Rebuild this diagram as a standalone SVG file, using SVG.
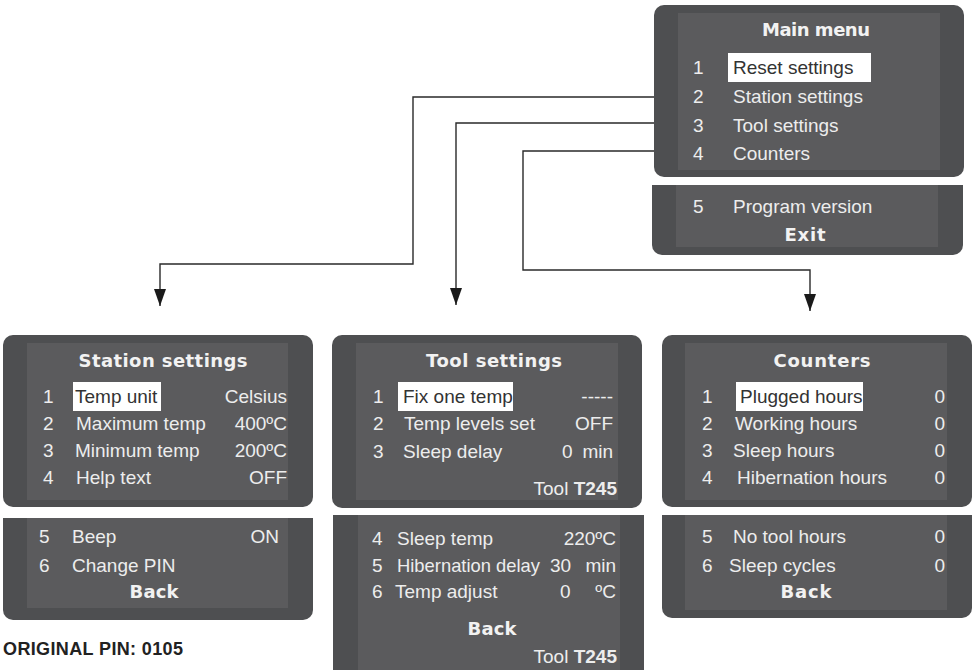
<svg xmlns="http://www.w3.org/2000/svg" width="974" height="670" viewBox="0 0 974 670">
<defs>
<style>
.outer{fill:#4e4f51}
.inner{fill:#5b5b5d}
.hl{fill:#ffffff}
.t{font-family:"Liberation Sans",Arial,sans-serif;font-size:19px;fill:#ededed}
.d{font-family:"Liberation Sans",Arial,sans-serif;font-size:19px;fill:#333333}
.h{font-family:"DejaVu Sans",sans-serif;font-weight:bold;font-size:18px;fill:#f2f2f2;text-anchor:middle}
.e{text-anchor:end}
.b{font-weight:bold}
.conn{fill:none;stroke:#2a2a2a;stroke-width:1.4}
.pin{font-family:"Liberation Sans",Arial,sans-serif;font-weight:bold;font-size:18px;fill:#222222}
</style>
<marker id="arrow" markerUnits="userSpaceOnUse" viewBox="0 0 17 12" refX="17" refY="6" markerWidth="17" markerHeight="12" orient="auto">
<path d="M0,0 L17,6 L0,12 z" fill="#1a1a1a"/>
</marker>
</defs>

<g id="connectors">
<path class="conn" d="M654,97 H413 V264 H160 V306" marker-end="url(#arrow)"/>
<path class="conn" d="M654,123 H456 V305" marker-end="url(#arrow)"/>
<path class="conn" d="M654,151 H523 V270 H810 V311" marker-end="url(#arrow)"/>
</g>

<g id="main-menu">
<rect class="outer" x="654" y="5" width="310" height="172" rx="10"/>
<rect class="inner" x="678" y="13" width="262" height="157"/>
<text class="h" x="816" y="36" textLength="108">Main menu</text>
<rect class="hl" x="728" y="53" width="143" height="29"/>
<text class="t" x="693" y="74">1</text><text class="d" x="733" y="74">Reset settings</text>
<text class="t" x="693" y="103">2</text><text class="t" x="733" y="103">Station settings</text>
<text class="t" x="693" y="132">3</text><text class="t" x="733" y="132">Tool settings</text>
<text class="t" x="693" y="160">4</text><text class="t" x="733" y="160">Counters</text>
<path class="outer" d="M652,185 H963 V245 A10,10 0 0 1 953,255 H662 A10,10 0 0 1 652,245 Z"/>
<rect class="inner" x="676" y="185" width="262" height="62"/>
<text class="t" x="693" y="213">5</text><text class="t" x="733" y="213">Program version</text>
<text class="h" x="805" y="241" textLength="41">Exit</text>
</g>

<g id="station-settings">
<rect class="outer" x="3" y="335" width="310" height="172" rx="10"/>
<rect class="inner" x="27" y="343" width="261" height="157"/>
<text class="h" x="163" y="367" textLength="169">Station settings</text>
<rect class="hl" x="73" y="382" width="88" height="29"/>
<text class="t" x="43" y="403">1</text><text class="d" x="75" y="403">Temp unit</text><text class="t e" x="287" y="403">Celsius</text>
<text class="t" x="43" y="430">2</text><text class="t" x="76" y="430">Maximum temp</text><text class="t e" x="287" y="430">400ºC</text>
<text class="t" x="43" y="457">3</text><text class="t" x="75" y="457">Minimum temp</text><text class="t e" x="287" y="457">200ºC</text>
<text class="t" x="43" y="484">4</text><text class="t" x="76" y="484">Help text</text><text class="t e" x="287" y="484">OFF</text>
<path class="outer" d="M3,518 H313 V610 A10,10 0 0 1 303,620 H13 A10,10 0 0 1 3,610 Z"/>
<rect class="inner" x="27" y="518" width="261" height="90"/>
<text class="t" x="39" y="543">5</text><text class="t" x="72" y="543">Beep</text><text class="t e" x="279" y="543">ON</text>
<text class="t" x="39" y="572">6</text><text class="t" x="72" y="572">Change PIN</text>
<text class="h" x="154" y="598" textLength="49">Back</text>
</g>

<g id="tool-settings">
<rect class="outer" x="332" y="335" width="310" height="173" rx="10"/>
<rect class="inner" x="356" y="343" width="262" height="157"/>
<text class="h" x="494" y="367" textLength="136">Tool settings</text>
<rect class="hl" x="398" y="382" width="115" height="29"/>
<text class="t" x="373" y="403">1</text><text class="d" x="403" y="403">Fix one temp</text><text class="t e" x="613" y="403">-----</text>
<text class="t" x="373" y="430">2</text><text class="t" x="404" y="430">Temp levels set</text><text class="t e" x="613" y="430">OFF</text>
<text class="t" x="373" y="458">3</text><text class="t" x="403" y="458">Sleep delay</text><text class="t" x="562" y="458">0</text><text class="t e" x="613" y="458">min</text>
<text class="t e" x="617" y="495">Tool <tspan class="b">T245</tspan></text>
<path class="outer" d="M333,515 H644 V670 H333 Z"/>
<rect class="inner" x="358" y="515" width="262" height="155"/>
<text class="t" x="372" y="545">4</text><text class="t" x="397" y="545">Sleep temp</text><text class="t e" x="616" y="545">220ºC</text>
<text class="t" x="372" y="572">5</text><text class="t" x="397" y="572" textLength="143" lengthAdjust="spacingAndGlyphs">Hibernation delay</text><text class="t" x="550" y="572">30</text><text class="t e" x="616" y="572">min</text>
<text class="t" x="372" y="598">6</text><text class="t" x="395" y="598">Temp adjust</text><text class="t" x="560" y="598">0</text><text class="t e" x="616" y="598">ºC</text>
<text class="h" x="492" y="635" textLength="49">Back</text>
<text class="t e" x="617" y="663">Tool <tspan class="b">T245</tspan></text>
</g>

<g id="counters">
<rect class="outer" x="662" y="335" width="310" height="172" rx="10"/>
<rect class="inner" x="685" y="343" width="262" height="157"/>
<text class="h" x="822" y="367" textLength="97">Counters</text>
<rect class="hl" x="736" y="382" width="127" height="29"/>
<text class="t" x="702" y="403">1</text><text class="d" x="740" y="403">Plugged hours</text><text class="t e" x="945" y="403">0</text>
<text class="t" x="702" y="430">2</text><text class="t" x="735" y="430">Working hours</text><text class="t e" x="945" y="430">0</text>
<text class="t" x="702" y="457">3</text><text class="t" x="733" y="457">Sleep hours</text><text class="t e" x="945" y="457">0</text>
<text class="t" x="702" y="484">4</text><text class="t" x="737" y="484">Hibernation hours</text><text class="t e" x="945" y="484">0</text>
<path class="outer" d="M662,515 H972 V608 A10,10 0 0 1 962,618 H672 A10,10 0 0 1 662,608 Z"/>
<rect class="inner" x="685" y="515" width="262" height="95"/>
<text class="t" x="702" y="543">5</text><text class="t" x="733" y="543">No tool hours</text><text class="t e" x="945" y="543">0</text>
<text class="t" x="702" y="572">6</text><text class="t" x="729" y="572">Sleep cycles</text><text class="t e" x="945" y="572">0</text>
<text class="h" x="806" y="598" textLength="51">Back</text>
</g>

<text class="pin" x="3" y="655" textLength="180">ORIGINAL PIN: 0105</text>
</svg>
